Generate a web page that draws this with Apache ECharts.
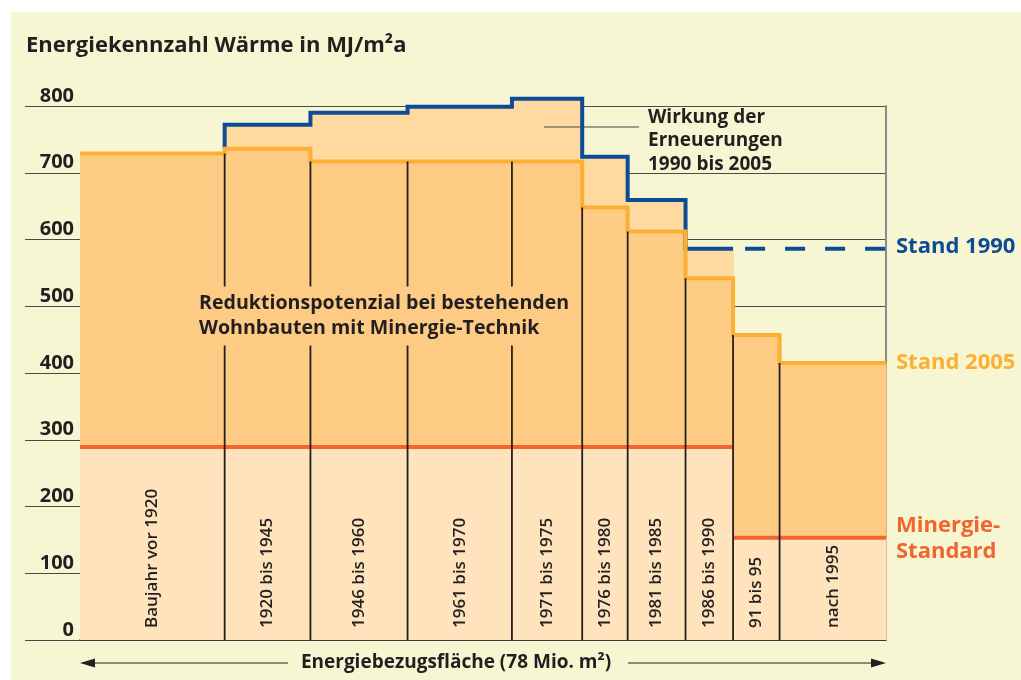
<!DOCTYPE html>
<html>
<head>
<meta charset="utf-8">
<script src="https://cdn.jsdelivr.net/npm/echarts@6/dist/echarts.min.js"></script>
<style>
html, body { margin: 0; padding: 0; background: #fff; }
#main { width: 1021px; height: 680px; }
</style>
</head>
<body>
<div id="main"></div>
<script>
// Bauperioden und ihre Energiebezugsfläche (Mio. m2)
const categories = ['Baujahr vor 1920', '1920 bis 1945', '1946 bis 1960', '1961 bis 1970', '1971 bis 1975',
    '1976 bis 1980', '1981 bis 1985', '1986 bis 1990', '91 bis 95', 'nach 1995'];
const flaeche = [14.0, 8.3, 9.4, 10.1, 6.8, 4.4, 5.6, 4.6, 4.5, 10.3];
// Energiekennzahl in MJ/m2a
const stand1990 = [729, 772, 790, 799, 811, 724, 659, 586, null, null];
const stand2005 = [729, 736, 717, 717, 717, 648, 612, 542, 457, 415];
const minergie = [289, 289, 289, 289, 289, 289, 289, 289, 153, 153];
const yTicks = [0, 100, 200, 300, 400, 500, 600, 700, 800];

const dunkel = '#231f20';
const blau = '#0d4c94';
const orange = '#fbb034';
const rot = '#f26430';
const font = '"Open Sans", "Noto Sans", sans-serif';

let chartDom = document.getElementById('main');
let myChart = echarts.init(chartDom);
let option;

// Grenzen der Spalten auf der Flächenachse
let grenzen = [0];
flaeche.forEach(function (f, i) {
    grenzen.push(Math.round((grenzen[i] + f) * 100) / 100);
});
const total = grenzen[grenzen.length - 1];

function stufen(werte, von, bis) {
    let pts = [];
    for (let i = von; i < bis; i++) {
        pts.push([grenzen[i], werte[i]], [grenzen[i + 1], werte[i]]);
    }
    return pts;
}

// Flächen: [x0, x1, unten, oben, farbe]
const fillColors = ['#fee3bd', '#fecb85', '#fedaa1'];
let flaechen = [];
categories.forEach(function (c, i) {
    flaechen.push([grenzen[i], grenzen[i + 1], 0, minergie[i], 0]);
    flaechen.push([grenzen[i], grenzen[i + 1], minergie[i], stand2005[i], 1]);
    if (stand1990[i] != null && stand1990[i] > stand2005[i]) {
        flaechen.push([grenzen[i], grenzen[i + 1], stand2005[i], stand1990[i], 2]);
    }
});

let minergieDaten = categories.map(function (c, i) {
    return [grenzen[i], grenzen[i + 1], minergie[i]];
});
let trennDaten = [];
for (let i = 1; i < categories.length; i++) {
    trennDaten.push([grenzen[i], Math.min(stand2005[i - 1], stand2005[i])]);
}
let labelDaten = categories.map(function (c, i) {
    return [grenzen[i], grenzen[i + 1]];
});
// blaue Linie erst ab 1920 sichtbar
let linie1990 = [[grenzen[1], stand2005[1]]].concat(stufen(stand1990, 1, 8));
const letzte1990 = stand1990[7];

option = {
    backgroundColor: '#fff',
    animation: false,
    textStyle: { fontFamily: font },
    grid: { left: 80, right: 135, top: 106, bottom: 40 },
    xAxis: {
        type: 'value', min: 0, max: total,
        axisLine: { show: true, onZero: false, lineStyle: { color: '#333', width: 1.5 } },
        axisTick: { show: false }, axisLabel: { show: false }, splitLine: { show: false }
    },
    yAxis: [
        {
            type: 'value', min: 0, max: 800, interval: 100,
            axisLine: { show: false },
            axisTick: { show: true, length: 55, lineStyle: { color: '#4a4a4a', width: 1 } },
            axisLabel: {
                margin: 6, color: dunkel, fontFamily: font, fontWeight: 'bold', fontSize: 20,
                verticalAlign: 'bottom', lineHeight: 20, padding: [0, 0, 0, 0],
                formatter: function (v) { return yTicks.indexOf(v) >= 0 ? String(v) : ''; }
            },
            splitLine: { show: true, lineStyle: { color: '#4a4a4a', width: 1 } }
        },
        {
            type: 'value', position: 'right', min: 0, max: 800,
            axisLine: { show: true, onZero: false, lineStyle: { color: '#8a8a8a', width: 2 } },
            axisTick: { show: false }, axisLabel: { show: false }, splitLine: { show: false }
        }
    ],
    graphic: [
        { type: 'rect', z: -100, shape: { x: 11, y: 12, width: 1010, height: 668 }, style: { fill: '#f6f6d3' } },
        { type: 'text', x: 26, y: 46, style: { text: 'Energiekennzahl Wärme in MJ/m²a', fill: dunkel,
            font: 'bold 22px ' + font, verticalAlign: 'middle' } },
        { type: 'text', z: 100, x: 197, y: 316, style: { text: 'Reduktionspotenzial bei bestehenden\nWohnbauten mit Minergie-Technik',
            fill: dunkel, font: 'bold 19.6px ' + font, lineHeight: 25, verticalAlign: 'middle',
            backgroundColor: '#fecb85', padding: [4, 4, 5, 2] } },
        { type: 'line', z: 100, shape: { x1: 544, y1: 127, x2: 639, y2: 127 }, style: { stroke: '#444', lineWidth: 1 } },
        { type: 'text', z: 100, x: 648, y: 141, style: { text: 'Wirkung der\nErneuerungen\n1990 bis 2005',
            fill: dunkel, font: 'bold 19px ' + font, lineHeight: 23.5, verticalAlign: 'middle' } },
        { type: 'text', x: 896, y: 247, style: { text: 'Stand 1990', fill: blau, font: 'bold 22px ' + font, verticalAlign: 'middle' } },
        { type: 'text', x: 896, y: 363, style: { text: 'Stand 2005', fill: orange, font: 'bold 22px ' + font, verticalAlign: 'middle' } },
        { type: 'text', x: 896, y: 539, style: { text: 'Minergie-\nStandard', fill: rot, font: 'bold 22px ' + font,
            lineHeight: 26, verticalAlign: 'middle' } },
        { type: 'text', x: 456, y: 663, style: { text: 'Energiebezugsfläche (78 Mio. m²)', fill: dunkel,
            font: 'bold 19px ' + font, align: 'center', verticalAlign: 'middle' } },
        { type: 'line', shape: { x1: 92, y1: 663, x2: 288, y2: 663 }, style: { stroke: dunkel, lineWidth: 1.2 } },
        { type: 'polygon', shape: { points: [[80, 663], [95, 658.5], [95, 667.5]] }, style: { fill: dunkel } },
        { type: 'line', shape: { x1: 628, y1: 663, x2: 874, y2: 663 }, style: { stroke: dunkel, lineWidth: 1.2 } },
        { type: 'polygon', shape: { points: [[886, 663], [871, 658.5], [871, 667.5]] }, style: { fill: dunkel } }
    ],
    series: [
        {
            type: 'custom', z: 1, clip: false,
            encode: { x: [0, 1], y: [2, 3] },
            renderItem: function (params, api) {
                let a = api.coord([api.value(0), api.value(3)]);
                let b = api.coord([api.value(1), api.value(2)]);
                return {
                    type: 'rect',
                    shape: { x: a[0], y: a[1], width: b[0] - a[0] + 0.6, height: b[1] - a[1] },
                    style: { fill: fillColors[api.value(4)] }
                };
            },
            data: flaechen
        },
        {
            type: 'line', z: 3, clip: false, showSymbol: false, silent: true,
            lineStyle: { color: blau, width: 4, cap: 'butt', join: 'miter' },
            data: linie1990
        },
        {
            type: 'line', z: 3, clip: false, showSymbol: false, silent: true,
            lineStyle: { color: blau, width: 4, type: [20, 20], dashOffset: 28, cap: 'butt' },
            data: [[grenzen[8], letzte1990], [total, letzte1990]]
        },
        {
            type: 'line', z: 4, clip: false, showSymbol: false, silent: true,
            lineStyle: { color: orange, width: 4, cap: 'butt', join: 'miter' },
            data: stufen(stand2005, 0, 10)
        },
        {
            type: 'custom', z: 5, clip: false,
            encode: { x: [0, 1], y: 2 },
            renderItem: function (params, api) {
                let a = api.coord([api.value(0), api.value(2)]);
                let b = api.coord([api.value(1), api.value(2)]);
                return { type: 'line', shape: { x1: a[0], y1: a[1], x2: b[0], y2: b[1] },
                    style: { stroke: rot, lineWidth: 4 } };
            },
            data: minergieDaten
        },
        {
            type: 'custom', z: 6, clip: false,
            encode: { x: 0, y: 1 },
            renderItem: function (params, api) {
                let a = api.coord([api.value(0), 0]);
                let b = api.coord([api.value(0), api.value(1)]);
                return { type: 'line', shape: { x1: a[0], y1: a[1], x2: b[0], y2: b[1] },
                    style: { stroke: dunkel, lineWidth: 1.8 } };
            },
            data: trennDaten
        },
        {
            type: 'custom', z: 7, clip: false,
            encode: { x: [0, 1] },
            renderItem: function (params, api) {
                let p = api.coord([(api.value(0) + api.value(1)) / 2, 0]);
                return {
                    type: 'text', x: p[0], y: p[1] - 12, rotation: Math.PI / 2,
                    style: { text: categories[params.dataIndex], fill: dunkel,
                        font: '600 17px ' + font, align: 'left', verticalAlign: 'middle' }
                };
            },
            data: labelDaten
        }
    ]
};

myChart.setOption(option);
</script>
</body>
</html>
